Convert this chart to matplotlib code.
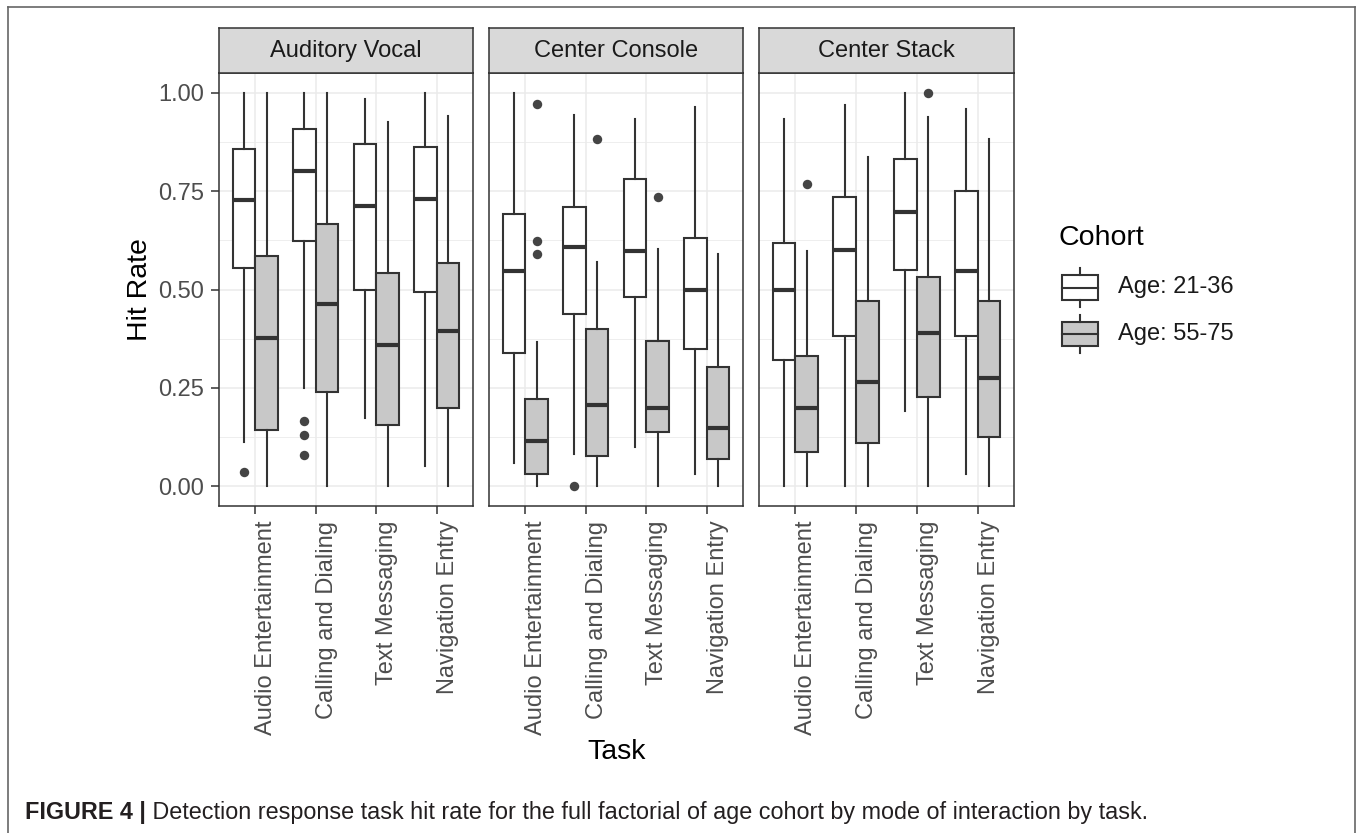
import matplotlib
matplotlib.use("Agg")
import matplotlib.pyplot as plt
from matplotlib.patches import Rectangle
from matplotlib.lines import Line2D
from matplotlib import font_manager

W, H = 1362, 833
plt.rcParams['font.family'] = ['Liberation Sans', 'DejaVu Sans']

# ---- data -------------------------------------------------------------
modes = ["Auditory Vocal", "Center Console", "Center Stack"]
tasks = ["Audio Entertainment", "Calling and Dialing", "Text Messaging", "Navigation Entry"]
cohorts = ["Age: 21-36", "Age: 55-75"]
cohort_fill = ["#FFFFFF", "#C8C8C8"]

# five-number summaries, indexed [mode][task]
young_lo  = [[0.113, 0.249, 0.174, 0.052], [0.059, 0.081, 0.100, 0.032], [0.000, 0.000, 0.192, 0.031]]
young_q1  = [[0.555, 0.622, 0.500, 0.493], [0.339, 0.439, 0.482, 0.350], [0.322, 0.382, 0.550, 0.382]]
young_med = [[0.728, 0.800, 0.712, 0.730], [0.546, 0.609, 0.597, 0.500], [0.500, 0.600, 0.696, 0.548]]
young_q3  = [[0.857, 0.908, 0.869, 0.863], [0.691, 0.709, 0.781, 0.630], [0.617, 0.734, 0.831, 0.749]]
young_hi  = [[1.000, 1.000, 0.985, 1.000], [1.000, 0.944, 0.934, 0.964], [0.933, 0.968, 0.998, 0.959]]
young_out = [[[0.036], [0.166, 0.130, 0.079], [], []],
             [[], [0.000], [], []],
             [[], [], [], []]]

old_lo  = [[0.000, 0.000, 0.000, 0.000], [0.000, 0.000, 0.000, 0.000], [0.000, 0.000, 0.000, 0.000]]
old_q1  = [[0.142, 0.240, 0.157, 0.198], [0.032, 0.076, 0.137, 0.069], [0.086, 0.109, 0.226, 0.125]]
old_med = [[0.377, 0.463, 0.359, 0.395], [0.116, 0.207, 0.200, 0.148], [0.200, 0.266, 0.389, 0.275]]
old_q3  = [[0.585, 0.667, 0.541, 0.568], [0.222, 0.399, 0.370, 0.304], [0.332, 0.470, 0.532, 0.470]]
old_hi  = [[1.000, 1.000, 0.925, 0.940], [0.367, 0.569, 0.603, 0.591], [0.598, 0.837, 0.938, 0.883]]
old_out = [[[], [], [], []],
           [[0.971, 0.624, 0.590], [0.882], [0.735], []],
           [[0.769], [], [1.000], []]]

y_ticks = [0.00, 0.25, 0.50, 0.75, 1.00]
y_tick_labels = ["0.00", "0.25", "0.50", "0.75", "1.00"]
y_minor = [0.125, 0.375, 0.625, 0.875]

summaries = [
    (young_lo, young_q1, young_med, young_q3, young_hi, young_out),
    (old_lo, old_q1, old_med, old_q3, old_hi, old_out),
]

# ---- style ------------------------------------------------------------
EDGE = "#333333"
GRID = "#EBEBEB"
AXTXT = "#4D4D4D"
SMALL = 17
BASE = 20.5

fig = plt.figure(figsize=(W / 100, H / 100), dpi=100)


def px_axes(x0, y0, x1, y1, **kw):
    return fig.add_axes([x0 / W, 1 - y1 / H, (x1 - x0) / W, (y1 - y0) / H], **kw)


# full-figure overlay in pixel units for frame, legend and caption
ov = px_axes(0, 0, W, H)
ov.set_xlim(0, W)
ov.set_ylim(H, 0)
ov.axis("off")
ov.patch.set_visible(False)

panel_x = [(219, 473), (489, 743), (759, 1014)]
panel_top, panel_bot = 73, 506
strip_top = 28

box_w = 0.375
for m, (x0, x1) in enumerate(panel_x):
    ax = px_axes(x0, panel_top, x1, panel_bot)
    ax.set_xlim(0.4, len(tasks) + 0.6)
    ax.set_ylim(-0.05, 1.05)
    ax.set_axisbelow(True)
    ax.set_xticks(range(1, len(tasks) + 1))
    ax.set_yticks(y_ticks)
    ax.set_yticks(y_minor, minor=True)
    ax.grid(True, which="major", color=GRID, lw=1.1)
    ax.grid(True, which="minor", axis="y", color=GRID, lw=0.6)
    for sp in ax.spines.values():
        sp.set_color(EDGE)
        sp.set_linewidth(1.1)

    for c, (lo, q1, med, q3, hi, out) in enumerate(summaries):
        stats = []
        pos = []
        for t in range(len(tasks)):
            stats.append(dict(med=med[m][t], q1=q1[m][t], q3=q3[m][t],
                              whislo=lo[m][t], whishi=hi[m][t], fliers=out[m][t]))
            pos.append(t + 1 + (c - 0.5) * box_w)
        ax.bxp(stats, positions=pos, widths=box_w, patch_artist=True,
               showcaps=False, manage_ticks=False,
               boxprops=dict(facecolor=cohort_fill[c], edgecolor=EDGE, linewidth=1.5),
               whiskerprops=dict(color=EDGE, linewidth=1.5),
               medianprops=dict(color=EDGE, linewidth=3.0, solid_capstyle="butt"),
               flierprops=dict(marker="o", markerfacecolor="#444444",
                               markeredgecolor="none", markersize=6.8))

    ax.tick_params(axis="both", which="major", color=EDGE, length=5.5, width=1.1,
                   labelcolor=AXTXT, labelsize=SMALL, pad=5)
    ax.tick_params(axis="y", which="minor", length=0)
    ax.set_xticklabels(tasks, rotation=90, ha="left", va="top")
    if m == 0:
        ax.set_yticklabels(y_tick_labels)
    else:
        ax.tick_params(axis="y", which="major", length=0, labelleft=False)

    # facet strip
    st = px_axes(x0, strip_top, x1, panel_top)
    st.set_facecolor("#D9D9D9")
    st.set_xticks([])
    st.set_yticks([])
    for sp in st.spines.values():
        sp.set_color(EDGE)
        sp.set_linewidth(1.1)
    st.text(0.5, 0.48, modes[m], transform=st.transAxes, ha="center", va="center",
            fontsize=SMALL, color="#1A1A1A")

# axis titles
ov.text(140, 289.5, "Hit Rate", rotation=90, ha="center", va="center", fontsize=BASE, color="black")
ov.text((panel_x[0][0] + panel_x[-1][1]) / 2, 752, "Task", ha="center", va="center",
        fontsize=BASE, color="black")

# legend
ov.text(1058, 238, "Cohort", ha="left", va="center", fontsize=BASE, color="black")
key_boxes = [(275, 300, 268, 307), (322, 346, 315, 353)]
for c, (b0, b1, w0, w1) in enumerate(key_boxes):
    kx0, kx1 = 1062, 1098
    kc = (kx0 + kx1) / 2
    ov.add_patch(Rectangle((kx0, b0), kx1 - kx0, b1 - b0, facecolor=cohort_fill[c],
                           edgecolor=EDGE, lw=1.5))
    ov.add_line(Line2D([kx0, kx1], [(b0 + b1) / 2] * 2, color=EDGE, lw=1.5))
    ov.add_line(Line2D([kc, kc], [w0, b0], color=EDGE, lw=1.5))
    ov.add_line(Line2D([kc, kc], [b1, w1], color=EDGE, lw=1.5))
    ov.text(1118, (b0 + b1) / 2, cohorts[c], ha="left", va="center", fontsize=SMALL, color="#1A1A1A")

# outer frame
FR = "#666666"
ov.add_line(Line2D([8, 8], [7, H], color=FR, lw=1.2))
ov.add_line(Line2D([1355, 1355], [7, H], color=FR, lw=1.2))
ov.add_line(Line2D([8, 1355], [7, 7], color=FR, lw=1.2))

# caption
names = {f.name for f in font_manager.fontManager.ttflist}
cap_family = "Liberation Sans Narrow" if "Liberation Sans Narrow" in names else "Liberation Sans"
cap_bold = "FIGURE 4 |"
cap_rest = " Detection response task hit rate for the full factorial of age cohort by mode of interaction by task."
cap_x, cap_y, cap_end = 25, 819, 1146

renderer = fig.canvas.get_renderer()


def place_caption(fs):
    a = ov.text(cap_x, cap_y, cap_bold, ha="left", va="baseline", fontsize=fs,
                fontweight="bold", family=cap_family, color="#231F20")
    wa = a.get_window_extent(renderer).width
    b = ov.text(cap_x + wa, cap_y, cap_rest, ha="left", va="baseline", fontsize=fs,
                family=cap_family, color="#231F20")
    wb = b.get_window_extent(renderer).width
    return a, b, wa + wb


a, b, total = place_caption(12)
a.remove()
b.remove()
place_caption(12 * (cap_end - cap_x) / total)

fig.savefig("out.png", dpi=100)
